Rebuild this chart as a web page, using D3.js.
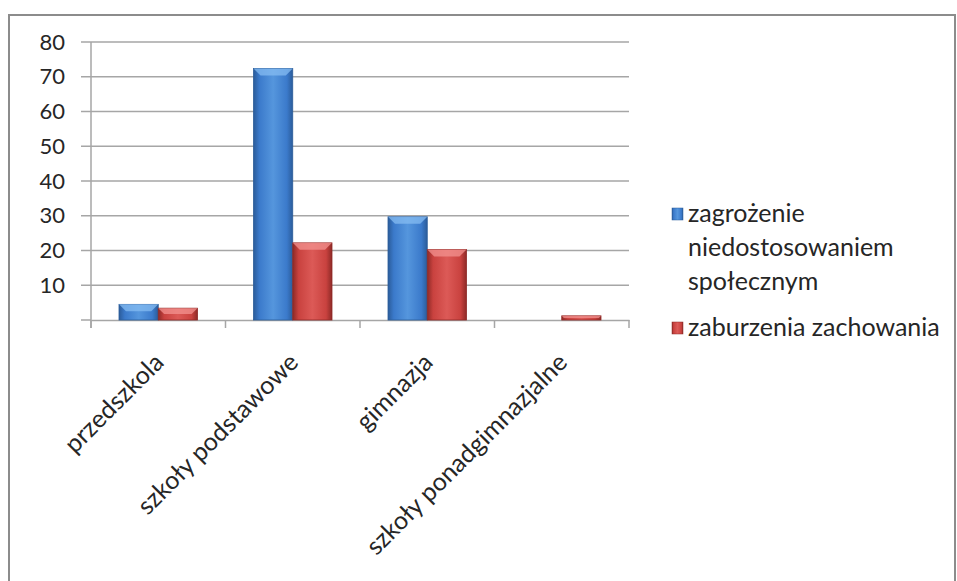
<!DOCTYPE html>
<html>
<head>
<meta charset="utf-8">
<script src="https://cdn.jsdelivr.net/npm/d3@7"></script>
<style>
  body { margin: 0; background: #fff; }
  svg { display: block; font-family: Lato, "Open Sans", sans-serif; }
</style>
</head>
<body>
<svg width="957" height="581"></svg>
<script>
// data
var categories = ['przedszkola', 'szkoły podstawowe', 'gimnazja', 'szkoły ponadgimnazjalne'];
var seriesNames = ['zagrożenie niedostosowaniem społecznym', 'zaburzenia zachowania'];
var zagrozenie = [4.5, 72.4, 29.7, 0];
var zaburzenia = [3.4, 22.2, 20.3, 1.2];
var yTicks = [10, 20, 30, 40, 50, 60, 70, 80];

var svg = d3.select('svg');
var margin = {top: 42, left: 91, right: 328, bottom: 261};
var width = 957 - margin.left - margin.right;
var height = 581 - margin.top - margin.bottom;

// outer frame
svg.append('rect')
    .attr('x', 9).attr('y', 15)
    .attr('width', 946).attr('height', 600)
    .attr('fill', 'none')
    .attr('stroke', '#8c8c8c')
    .attr('stroke-width', 2);

var defs = svg.append('defs');
var colors = [
    {id: 'blue', dark: '#2b5c9a', mid: '#3b7acb', light: '#5596dd', top: '#86bcf2'},
    {id: 'red', dark: '#8e2a27', mid: '#c9423f', light: '#dc5a57', top: '#f39390'}
];
colors.forEach(function(c) {
    var gr = defs.append('linearGradient').attr('id', 'g-' + c.id)
        .attr('x1', 0).attr('x2', 1).attr('y1', 0).attr('y2', 0);
    gr.append('stop').attr('offset', '0%').attr('stop-color', c.dark);
    gr.append('stop').attr('offset', '15%').attr('stop-color', c.mid);
    gr.append('stop').attr('offset', '50%').attr('stop-color', c.light);
    gr.append('stop').attr('offset', '85%').attr('stop-color', c.mid);
    gr.append('stop').attr('offset', '100%').attr('stop-color', c.dark);
});

var g = svg.append('g')
    .attr('transform', 'translate(' + margin.left + ',' + margin.top + ')');

var x = d3.scaleBand().domain(categories).range([0, width]);
var x1 = d3.scaleBand().domain([0, 1]).range([28, x.bandwidth() - 28]);
var y = d3.scaleLinear().domain([0, 80]).range([height, 0]);

// gridlines
g.selectAll('.grid')
    .data(yTicks)
    .enter().append('line')
    .attr('x1', -10).attr('x2', width)
    .attr('y1', function(d) { return y(d); })
    .attr('y2', function(d) { return y(d); })
    .attr('stroke', '#a6a6a6').attr('stroke-width', 1.5);
g.append('line').attr('x1', -10).attr('x2', 0).attr('y1', y(0)).attr('y2', y(0))
    .attr('stroke', '#a6a6a6').attr('stroke-width', 1.5);

// y axis
var yAxis = g.append('g').call(d3.axisLeft(y).tickValues(yTicks).tickSize(0).tickPadding(26));
yAxis.attr('font-family', null);
yAxis.select('.domain').remove();
yAxis.selectAll('text').attr('font-size', 22).attr('fill', '#262626');
g.append('line').attr('x1', 0).attr('x2', 0).attr('y1', 0).attr('y2', height + 8)
    .attr('stroke', '#a6a6a6').attr('stroke-width', 1.5);

// x axis
var xAxis = g.append('g').attr('transform', 'translate(0,' + height + ')')
    .call(d3.axisBottom(x).tickSize(0).tickFormat(''));
xAxis.select('.domain').attr('stroke', '#a6a6a6').attr('stroke-width', 1.5);
var bounds = d3.range(categories.length + 1);
xAxis.selectAll('.bnd').data(bounds).enter().append('line')
    .attr('x1', function(d) { return d * x.bandwidth(); })
    .attr('x2', function(d) { return d * x.bandwidth(); })
    .attr('y1', 0).attr('y2', 8)
    .attr('stroke', '#a6a6a6').attr('stroke-width', 1.5);

g.selectAll('.xlab')
    .data(categories)
    .enter().append('text')
    .attr('transform', function(d) {
        return 'translate(' + (x(d) + x.bandwidth() / 2 + 7) + ',' + (height + 44) + ') rotate(-45)';
    })
    .attr('text-anchor', 'end')
    .attr('font-size', 25)
    .attr('fill', '#262626')
    .text(function(d) { return d; });

// bars
function drawBar(vals, si) {
    var c = colors[si];
    var bars = g.selectAll('.bar' + si)
        .data(vals.map(function(v, i) { return {cat: categories[i], v: v}; }).filter(function(d) { return d.v > 0; }))
        .enter().append('g');
    bars.append('rect')
        .attr('x', function(d) { return x(d.cat) + x1(si); })
        .attr('y', function(d) { return y(d.v); })
        .attr('width', x1.bandwidth())
        .attr('height', function(d) { return height - y(d.v); })
        .attr('fill', 'url(#g-' + c.id + ')')
        .attr('stroke', c.dark).attr('stroke-width', 0.8);
    bars.append('path')
        .attr('d', function(d) {
            var x0 = x(d.cat) + x1(si), w = x1.bandwidth(), y0 = y(d.v);
            var b = Math.min(7, (height - y0) / 2);
            return 'M' + x0 + ',' + y0 + 'L' + (x0 + w) + ',' + y0 +
                'L' + (x0 + w - b) + ',' + (y0 + b) + 'L' + (x0 + b) + ',' + (y0 + b) + 'Z';
        })
        .attr('fill', c.top).attr('opacity', 0.75);
}
drawBar(zagrozenie, 0);
drawBar(zaburzenia, 1);

// legend
var legend = svg.append('g').attr('transform', 'translate(672,208)');
var legLines = [['zagrożenie', 'niedostosowaniem', 'społecznym'], ['zaburzenia zachowania']];
var legY = [0, 114];
legLines.forEach(function(lines, i) {
    var lg = legend.append('g').attr('transform', 'translate(0,' + legY[i] + ')');
    lg.append('rect').attr('width', 11).attr('height', 12)
        .attr('fill', 'url(#g-' + colors[i].id + ')').attr('stroke', colors[i].dark).attr('stroke-width', 0.5);
    lg.selectAll('text').data(lines).enter().append('text')
        .attr('x', 16)
        .attr('y', function(d, j) { return 14 + j * 34; })
        .attr('font-size', 25)
        .attr('fill', '#262626')
        .text(function(d) { return d; });
});
</script>
</body>
</html>
